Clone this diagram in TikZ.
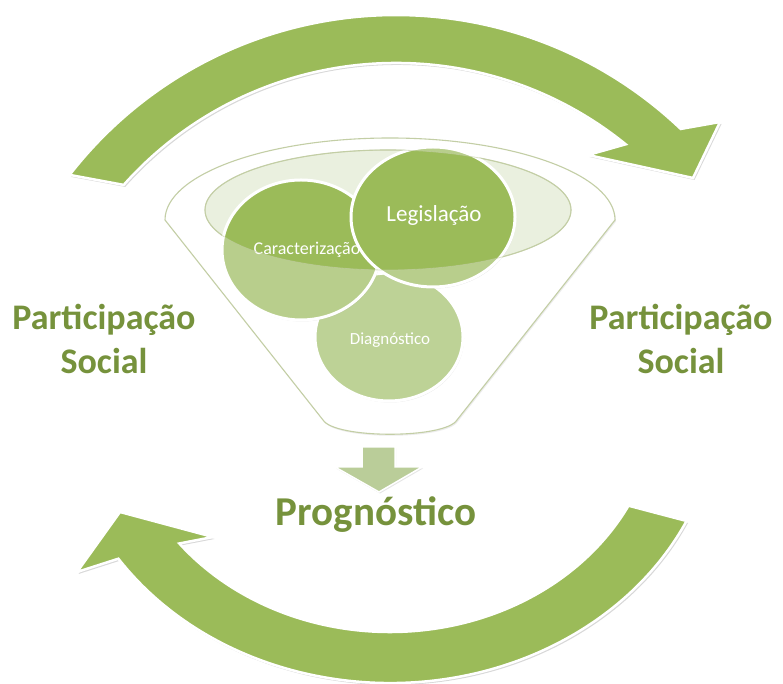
\documentclass[tikz,border=0pt]{standalone}
\usepackage{fontspec}
\setmainfont{Carlito}
\usetikzlibrary{shadows}
\definecolor{agreen}{HTML}{9BBB59}
\definecolor{tgreen}{HTML}{76923C}
\definecolor{clight}{HTML}{B8CE8C}
\definecolor{dlight}{HTML}{BDD296}
\definecolor{efill}{HTML}{EAF0DF}
\definecolor{fline}{HTML}{C3CEA5}
\definecolor{darrow}{HTML}{BACD99}
\tikzset{
  bigarrow/.style={fill=agreen, draw=white, line width=2.5pt, line join=miter,
    drop shadow={shadow xshift=1.5pt, shadow yshift=-2pt, opacity=0.25, fill=black!60}},
  funnelline/.style={draw=fline, line width=1.1pt},
  sidelabel/.style={text=tgreen, align=center, font=\fontsize{36}{44}\selectfont\bfseries},
  bottomlabel/.style={text=tgreen, font=\fontsize{41}{48}\selectfont\bfseries},
  blobtext/.style={text=white, font=\fontsize{17}{20}\selectfont},
  caractext/.style={text=white, font=\fontsize{18}{21}\selectfont},
  bigblobtext/.style={text=white, font=\fontsize{23}{27}\selectfont}
}
\newcommand{\greenblob}[5]{%
  \fill[#5, drop shadow={shadow xshift=1pt, shadow yshift=-1.5pt, opacity=0.2, fill=black!50}]
    (#1,#2) ellipse[x radius=#3pt, y radius=#4pt];
  \begin{scope}
    \clip (388,474) ellipse[x radius=183pt, y radius=60pt];
    \fill[agreen] (#1,#2) ellipse[x radius=#3pt, y radius=#4pt];
  \end{scope}
  \draw[white, line width=3pt] (#1,#2) ellipse[x radius=#3pt, y radius=#4pt];
}
\begin{document}
\begin{tikzpicture}[x=1pt, y=1pt]
\useasboundingbox (0,0) rectangle (783,684);
\fill[white] (0,0) rectangle (783,684);

% top curved arrow
\path[bigarrow] (69.6,509.1) arc[start angle=142.2, end angle=46.4, radius=413pt]
  -- (720,562) -- (693,506) -- (588,529) -- (625.7,539.7)
  arc[start angle=51, end angle=138.25, radius=365pt] -- cycle;

% bottom curved arrow
\path[bigarrow] (628.5,178.3) arc[start angle=-27.1, end angle=-141.8, x radius=268pt, y radius=232pt]
  -- (213,147) -- (120,172) -- (77,112) -- (118.4,125.3)
  arc[start angle=-145.9, end angle=-25.3, x radius=328pt, y radius=283pt] -- cycle;

% funnel body
\path[fill=white, funnelline, drop shadow={shadow xshift=1pt, shadow yshift=-1.5pt, opacity=0.15, fill=black!50}]
  (165,464) arc[start angle=180, end angle=0, x radius=225pt, y radius=82pt]
  -- (457,264) .. controls (445,245) and (335,245) .. (323,264) -- cycle;
% funnel opening
\fill[efill] (388,474) ellipse[x radius=183pt, y radius=60pt];
\draw[funnelline] (388,474) ellipse[x radius=183pt, y radius=60pt];

% circles
\greenblob{389}{347}{74}{64}{dlight}
\node[blobtext] (diag) at (390,344) {Diagnóstico};
\greenblob{301}{434}{79}{70}{clight}
\node[caractext] (carac) at (307,434) {Caracterização};
\greenblob{433}{467}{82}{70}{clight}
\node[bigblobtext] (legis) at (434,468) {Legislação};
\draw[fline, line width=0.8pt, opacity=0.6] (388,474) ellipse[x radius=183pt, y radius=60pt];

% small down arrow
\path[fill=darrow, draw=white, line width=1.5pt,
  drop shadow={shadow xshift=1pt, shadow yshift=-1.5pt, opacity=0.2, fill=black!50}]
  (362,237) -- (395,237) -- (395,217) -- (422,217) -- (379,192) -- (335,217) -- (362,217) -- cycle;

% labels
\node[bottomlabel] (prog) at (376,169) {Prognóstico};
\node[sidelabel] (psl) at (104,345) {Participação\\Social};
\node[sidelabel] (psr) at (681,345) {Participação\\Social};
\end{tikzpicture}
\end{document}
